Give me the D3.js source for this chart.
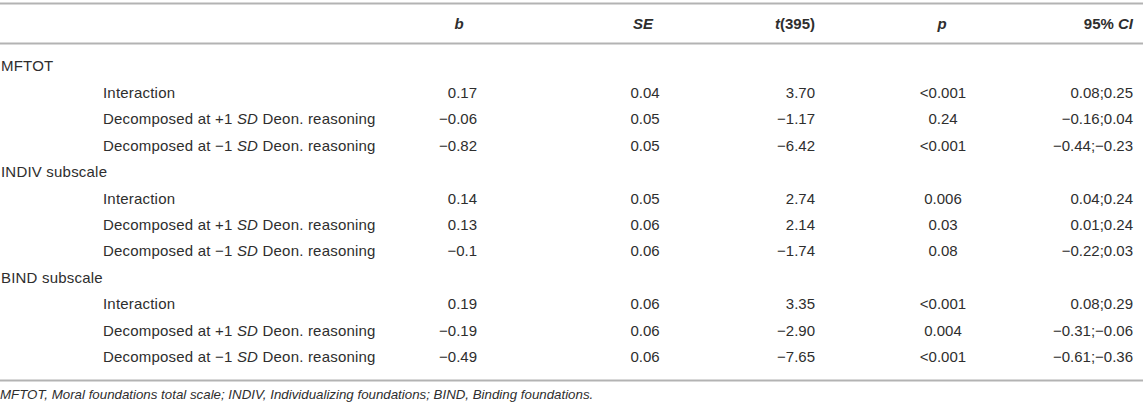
<!DOCTYPE html>
<html>
<head>
<meta charset="utf-8">
<script src="https://cdn.jsdelivr.net/npm/d3@7"></script>
<style>
  html, body { margin: 0; padding: 0; background: #fff; }
  svg { display: block; }
  text { font-family: "Liberation Sans", Arial, Helvetica, sans-serif; fill: #2e2e2e; }
</style>
</head>
<body>
<svg id="chart" width="1143" height="406"></svg>
<script>
// ---- data ----
const groups = ["MFTOT", "INDIV subscale", "BIND subscale"];
const effects = ["Interaction", "Decomposed at +1 SD Deon. reasoning", "Decomposed at \u22121 SD Deon. reasoning"];
const columns = ["b", "SE", "t", "p", "CI"];
const bValues = ["0.17", "\u22120.06", "\u22120.82", "0.14", "0.13", "\u22120.1", "0.19", "\u22120.19", "\u22120.49"];
const seValues = ["0.04", "0.05", "0.05", "0.05", "0.06", "0.06", "0.06", "0.06", "0.06"];
const tValues = ["3.70", "\u22121.17", "\u22126.42", "2.74", "2.14", "\u22121.74", "3.35", "\u22122.90", "\u22127.65"];
const pValues = ["<0.001", "0.24", "<0.001", "0.006", "0.03", "0.08", "<0.001", "0.004", "<0.001"];
const ciValues = ["0.08;0.25", "\u22120.16;0.04", "\u22120.44;\u22120.23", "0.04;0.24", "0.01;0.24", "\u22120.22;0.03", "0.08;0.29", "\u22120.31;\u22120.06", "\u22120.61;\u22120.36"];
const footnote = "MFTOT, Moral foundations total scale; INDIV, Individualizing foundations; BIND, Binding foundations.";

// ---- layout ----
const W = 1143, H = 406;
const svg = d3.select("#chart");
const fs = 15;
const ls = 0.2;

// column anchors
const colX = d3.scaleOrdinal().domain(columns).range([477, 645, 815, 943, 1133]);
const colAnchor = d3.scaleOrdinal().domain(columns).range(["end", "middle", "end", "middle", "end"]);
const headX = d3.scaleOrdinal().domain(columns).range([459, 643, 815, 942, 1133]);
const headAnchor = d3.scaleOrdinal().domain(columns).range(["middle", "middle", "end", "middle", "end"]);

// rows
const rows = [];
groups.forEach((g, gi) => {
  rows.push({ type: "group", label: g });
  effects.forEach((e, ei) => {
    const k = gi * 3 + ei;
    rows.push({ type: "effect", label: e, b: bValues[k], SE: seValues[k], t: tValues[k], p: pValues[k], CI: ciValues[k] });
  });
});
const y = d3.scalePoint().domain(d3.range(rows.length)).range([66, 357]);

// rules
const rules = [3.5, 43.5, 380.5];
svg.selectAll("line.rule").data(rules).join("line")
  .attr("class", "rule")
  .attr("x1", 0).attr("x2", W)
  .attr("y1", d => d).attr("y2", d => d)
  .attr("stroke", "#b3b3b3").attr("stroke-width", 1.8);

// header
const headerY = 24;
const headers = {
  b: [{ t: "b", i: true }],
  SE: [{ t: "SE", i: true }],
  t: [{ t: "t", i: true }, { t: "(395)", i: false }],
  p: [{ t: "p", i: true }],
  CI: [{ t: "95% ", i: false }, { t: "CI", i: true }]
};
columns.forEach(c => {
  const tx = svg.append("text")
    .attr("x", headX(c)).attr("y", headerY).attr("dy", "0.35em")
    .attr("text-anchor", headAnchor(c))
    .attr("font-size", fs).attr("font-weight", "bold");
  headers[c].forEach(part => {
    tx.append("tspan").text(part.t).attr("font-style", part.i ? "italic" : "normal");
  });
});

// body
const rowG = svg.selectAll("g.row").data(rows).join("g")
  .attr("class", "row")
  .attr("transform", (d, i) => `translate(0,${y(i)})`);

rowG.each(function (d) {
  const g = d3.select(this);
  const lab = g.append("text")
    .attr("x", d.type === "group" ? 1 : 103)
    .attr("dy", "0.35em")
    .attr("font-size", fs)
    .attr("letter-spacing", ls);
  if (d.type === "group") {
    lab.text(d.label);
  } else {
    const m = d.label.match(/^(.*?)(SD)(.*)$/);
    if (m) {
      lab.append("tspan").text(m[1]);
      lab.append("tspan").text(m[2]).attr("font-style", "italic");
      lab.append("tspan").text(m[3]);
    } else {
      lab.text(d.label);
    }
    columns.forEach(c => {
      g.append("text")
        .attr("x", colX(c)).attr("dy", "0.35em")
        .attr("text-anchor", colAnchor(c))
        .attr("font-size", fs)
        .text(d[c]);
    });
  }
});

// footnote
svg.append("text")
  .attr("x", 0).attr("y", 394).attr("dy", "0.35em")
  .attr("font-size", 13.3).attr("font-style", "italic")
  .text(footnote);
</script>
</body>
</html>
